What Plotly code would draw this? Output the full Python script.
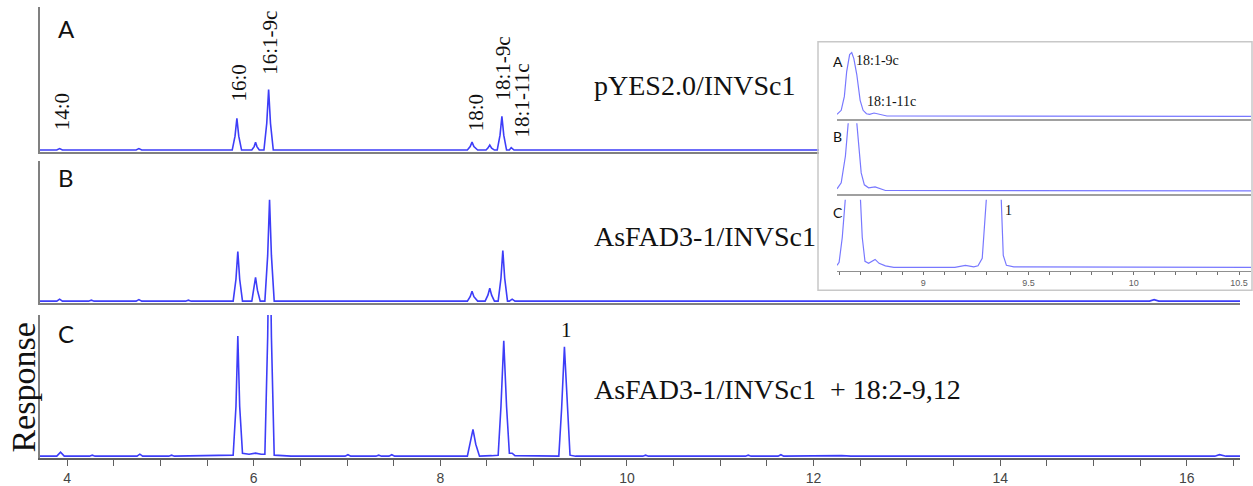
import plotly.graph_objects as go

W, H = 1253, 486

# ---------------- data ----------------
# main panel A : pYES2.0/INVSc1
rt_A = [3.71, 3.89, 3.92, 3.95, 4.74, 4.77, 4.80,
        5.77, 5.80, 5.82, 5.84, 5.87,
        5.98, 6.005, 6.02, 6.035, 6.06,
        6.11, 6.14, 6.16, 6.18, 6.21,
        8.29, 8.32, 8.34, 8.36, 8.40,
        8.49, 8.51, 8.53, 8.55, 8.58,
        8.61, 8.64, 8.66, 8.68, 8.71,
        8.74, 8.76, 8.79, 16.57]
resp_A = [0, 0, 1.5, 0, 0, 1.5, 0,
          0, 14, 32, 14, 0,
          0, 3.5, 8, 3.5, 0,
          0, 27, 61, 27, 0,
          0, 3.5, 8, 3.5, 0,
          0, 2, 5, 2, 0,
          0, 15, 34, 15, 0,
          0, 2.5, 0, 0]

# main panel B : AsFAD3-1/INVSc1
rt_B = [3.71, 3.89, 3.92, 3.95, 4.23, 4.26, 4.29, 4.74, 4.77, 4.80, 5.27, 5.30, 5.33,
        5.78, 5.81, 5.83, 5.85, 5.88,
        5.98, 6.00, 6.02, 6.04, 6.07,
        6.12, 6.15, 6.17, 6.19, 6.22,
        8.29, 8.32, 8.34, 8.36, 8.40,
        8.48, 8.51, 8.53, 8.55, 8.58,
        8.62, 8.65, 8.67, 8.69, 8.72,
        8.74, 8.77, 8.80, 15.60, 15.65, 15.70, 16.57]
resp_B = [0, 0, 2, 0, 0, 1, 0, 0, 1.5, 0, 0, 1, 0,
          0, 22, 50, 22, 0,
          0, 11, 24, 11, 0,
          0, 46, 102, 46, 0,
          0, 4.5, 10, 4.5, 0,
          0, 6, 13, 6, 0,
          0, 23, 51, 23, 0,
          0, 2, 0, 0, 1.5, 0, 0]

# main panel C : AsFAD3-1/INVSc1 + 18:2-9,12
rt_C = [3.71, 3.89, 3.93, 3.97, 4.24, 4.27, 4.30, 4.75, 4.78, 4.81, 5.09, 5.12, 5.15,
        5.78, 5.81, 5.83, 5.85, 5.88,
        5.95, 6.02, 6.08,
        6.12, 6.15, 6.17, 6.19, 6.22, 6.40,
        6.98, 7.01, 7.04, 7.31, 7.34, 7.37, 7.45, 7.48, 7.51,
        8.29, 8.32, 8.35, 8.38, 8.42,
        8.55, 8.62, 8.65, 8.68, 8.71, 8.74, 8.77, 8.80,
        9.27, 9.30, 9.33, 9.36, 9.39, 9.45,
        10.17, 10.20, 10.23, 11.27, 11.30, 11.33, 11.62, 11.65, 11.68,
        12.30, 12.40, 16.30, 16.35, 16.42, 16.57]
resp_C = [0, 0, 4, 0, 0, 1, 0, 0, 2, 0, 0, 1, 0,
          1, 50, 121, 50, 3,
          2, 3, 2,
          2, 120, 260, 120, 1, 0,
          0, 1.5, 0, 0, 1, 0, 0, 1.5, 0,
          0, 12, 27, 12, 0,
          0.5, 1, 50, 116, 50, 3, 3, 0.5,
          0, 48, 110, 48, 1, 0,
          0, 1, 0, 0, 1, 0, 0, 1.5, 0,
          0.5, 0, 0, 1.5, 0, 0]

# inset (zoom 8.6 - 10.5 min)
rt_iA = [8.59, 8.61, 8.625, 8.636, 8.65, 8.66, 8.67, 8.684, 8.70, 8.714, 8.73, 8.745,
         8.766, 8.79, 8.827, 10.557]
resp_iA = [2, 6, 20, 45, 62, 64, 58, 42, 16, 6, 2.5, 2, 3.3, 2, 0.3, 0]

rt_iB = [8.59, 8.61, 8.63, 8.645, 8.66, 8.675, 8.69, 8.705, 8.72, 8.74, 8.771, 8.80, 8.82,
         10.557]
resp_iB = [2, 8, 35, 75, 110, 90, 55, 18, 6, 3, 4, 1.5, 0.3, 0]

rt_iC = [8.59, 8.60, 8.615, 8.63, 8.65, 8.667, 8.685, 8.70, 8.71, 8.723, 8.74, 8.771,
         8.79, 8.82, 8.86, 9.15, 9.20, 9.24, 9.26, 9.28, 9.30, 9.318, 9.338, 9.355,
         9.37, 9.38, 9.395, 9.43, 10.557]
resp_iC = [2, 5, 30, 70, 160, 220, 160, 75, 30, 6, 4, 8,
           4, 1.5, 0, 0, 2, 0.5, 1.5, 9, 70, 160, 210, 160,
           70, 12, 2, 0.5, 0]

main_ticks = [4, 6, 8, 10, 12, 14, 16]
inset_ticks = [9, 9.5, 10, 10.5]

# ---------------- helpers ----------------
def px(x):
    return x / W

def py(y):
    return 1 - y / H

MAIN = "#3d3df8"
INSET = "#7878ff"
GRAY = "#808080"
SERIF = "Liberation Serif"
SANS = "Lato"

fig = go.Figure()

panels = [("x", "y", rt_A, resp_A), ("x2", "y2", rt_B, resp_B), ("x3", "y3", rt_C, resp_C)]
for xa, ya, xs, ys in panels:
    fig.add_trace(go.Scatter(x=xs, y=ys, mode="lines", xaxis=xa, yaxis=ya,
                             line=dict(color=MAIN, width=1.6), hoverinfo="skip",
                             showlegend=False))

# dummy subplot for opaque inset background
fig.add_trace(go.Scatter(x=[], y=[], xaxis="x4", yaxis="y4", showlegend=False,
                         hoverinfo="skip"))

insets = [("x5", "y5", rt_iA, resp_iA), ("x6", "y6", rt_iB, resp_iB),
          ("x7", "y7", rt_iC, resp_iC)]
for xa, ya, xs, ys in insets:
    fig.add_trace(go.Scatter(x=xs, y=ys, mode="lines", xaxis=xa, yaxis=ya,
                             line=dict(color=INSET, width=1.2), hoverinfo="skip",
                             showlegend=False))

XR = [3.71, 16.57]
XD = [px(40), px(1240)]
hidden = dict(showgrid=False, zeroline=False, showticklabels=False, ticks="")

layout = dict(
    width=W, height=H, margin=dict(l=0, r=0, t=0, b=0),
    paper_bgcolor="white", plot_bgcolor="white", showlegend=False,
    xaxis=dict(domain=XD, range=XR, anchor="y", showline=True, linecolor=GRAY,
               linewidth=1.5, **hidden),
    yaxis=dict(domain=[py(153), py(7)], range=[-2, 144], anchor="x", showline=True,
               linecolor=GRAY, linewidth=1.5, **hidden),
    xaxis2=dict(domain=XD, range=XR, anchor="y2", showline=True, linecolor=GRAY,
                linewidth=1.5, **hidden),
    yaxis2=dict(domain=[py(305), py(162)], range=[-2, 141], anchor="x2", showline=True,
                linecolor=GRAY, linewidth=1.5, **hidden),
    xaxis3=dict(domain=XD, range=XR, anchor="y3", showline=True, linecolor="#606060",
                linewidth=1.5, showgrid=False, zeroline=False,
                tickmode="array", tickvals=main_ticks,
                ticktext=[str(t) for t in main_ticks],
                ticks="outside", ticklen=6, tickwidth=1.2, tickcolor="#606060",
                minor=dict(dtick=0.5, tick0=4, ticks="outside", ticklen=6,
                           tickwidth=1.2, tickcolor="#606060", showgrid=False),
                tickfont=dict(family="Liberation Sans", size=14, color="#444444")),
    yaxis3=dict(domain=[py(461), py(317)], range=[-2, 142], anchor="x3", showline=True,
                linecolor=GRAY, linewidth=1.5, **hidden),
    xaxis4=dict(domain=[px(819), px(1251)], range=[0, 1], anchor="y4", visible=False),
    yaxis4=dict(domain=[py(291), py(43)], range=[0, 1], anchor="x4", visible=False),
)

IXR = [8.59, 10.557]
IXD = [px(837), px(1251)]
layout.update(
    xaxis5=dict(domain=IXD, range=IXR, anchor="y5", showline=True, linecolor="#a0a0a0",
                linewidth=1.5, **hidden),
    yaxis5=dict(domain=[py(120), py(45)], range=[-3, 72], anchor="x5", showline=False,
                **hidden),
    xaxis6=dict(domain=IXD, range=IXR, anchor="y6", showline=True, linecolor="#a0a0a0",
                linewidth=1.5, **hidden),
    yaxis6=dict(domain=[py(195), py(124)], range=[-3, 68], anchor="x6", showline=False,
                **hidden),
    xaxis7=dict(domain=IXD, range=IXR, anchor="y7", showline=True, linecolor="#909090",
                linewidth=1, showgrid=False, zeroline=False,
                tickmode="array", tickvals=inset_ticks,
                ticktext=[f"{t:g}" for t in inset_ticks],
                ticks="outside", ticklen=3, tickcolor="#707070",
                minor=dict(dtick=0.1, tick0=9, ticks="outside", ticklen=3,
                           tickcolor="#707070", showgrid=False),
                tickfont=dict(family="Liberation Sans", size=9, color="#606060")),
    yaxis7=dict(domain=[py(273), py(201)], range=[-4, 68], anchor="x7", showline=False,
                **hidden),
)
fig.update_layout(**layout)

# inset frame
fig.add_shape(type="rect", xref="paper", yref="paper", x0=px(818), x1=px(1252),
              y0=py(292), y1=py(42), line=dict(color="#c8c8c8", width=1.5),
              fillcolor="rgba(0,0,0,0)", layer="above")

ann = []

def text(x, y, s, size, family, angle=0, xanchor="center", color="#111"):
    ann.append(dict(x=px(x), y=py(y), xref="paper", yref="paper", text=s,
                    showarrow=False, textangle=angle, xanchor=xanchor,
                    yanchor="middle", font=dict(family=family, size=size, color=color)))

# panel letters
text(66, 29, "A", 24, SANS)
text(66, 179, "B", 24, SANS)
text(66, 336, "C", 24, SANS)

# peak labels (rotated)
text(62, 113, "14:0", 21, SERIF, -90)
text(239, 84, "16:0", 21, SERIF, -90)
text(270, 43, "16:1-9c", 21, SERIF, -90)
text(476, 114, "18:0", 21, SERIF, -90)
text(503, 69, "18:1-9c", 21, SERIF, -90)
text(522, 101, "18:1-11c", 21, SERIF, -90)
text(566, 332, "1", 21, SERIF)

# strain labels
text(592, 86, "pYES2.0/INVSc1", 28, SERIF, xanchor="left")
text(592, 238, "AsFAD3-1/INVSc1", 28, SERIF, xanchor="left")
text(592, 392, "AsFAD3-1/INVSc1\u00a0\u00a0+ 18:2-9,12", 28, SERIF, xanchor="left")

# axis title
text(24, 390, "Response", 34, SERIF, -90)

# inset labels
text(838, 62, "A", 14, SANS)
text(838, 137, "B", 14, SANS)
text(838, 214, "C", 14, SANS)
text(877, 61, "18:1-9c", 14, SERIF)
text(891, 102, "18:1-11c", 14, SERIF)
text(1008, 212, "1", 14, SERIF)

fig.update_layout(annotations=ann)
fig.write_html(
    "out.html",
    config={"displayModeBar": False},
    post_script="document.body.style.margin='0';document.body.style.overflow='hidden';",
)
